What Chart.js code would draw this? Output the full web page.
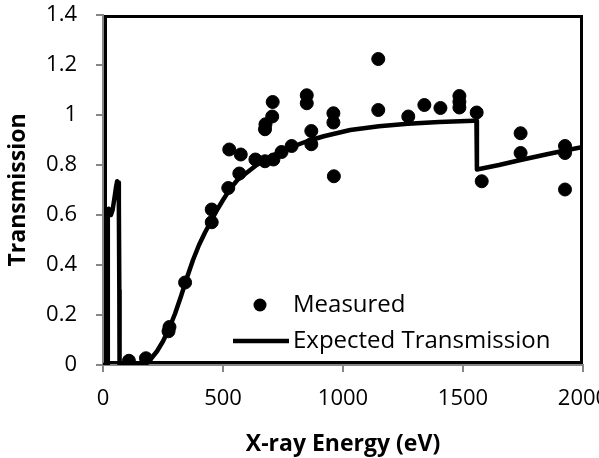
<!DOCTYPE html>
<html>
<head>
<meta charset="utf-8">
<script src="https://cdn.jsdelivr.net/npm/chart.js@4.4.1/dist/chart.umd.min.js"></script>
<style>
  html, body { margin: 0; padding: 0; background: #fff; }
  #wrap { width: 599px; height: 458px; }
</style>
</head>
<body>
<div id="wrap"><canvas id="xrayChart" width="599" height="458"></canvas></div>
<script>
// measured points (eV, transmission)
const measuredEnergy = [108, 179, 273, 277, 342, 453, 453, 522, 526, 568, 574, 635, 675, 675, 677, 705, 707, 710, 744, 786,
    849, 849, 868, 868, 960, 960, 962, 1147, 1147, 1272, 1339, 1406, 1485, 1485, 1485, 1557, 1578, 1740, 1740, 1925, 1925, 1925];
const measuredTrans = [0.017, 0.027, 0.135, 0.152, 0.33, 0.622, 0.571, 0.708, 0.862, 0.766, 0.842, 0.822, 0.815, 0.943, 0.963, 0.994, 1.052, 0.822, 0.852, 0.876,
    1.079, 1.047, 0.936, 0.883, 1.007, 0.97, 0.755, 1.224, 1.02, 0.994, 1.04, 1.028, 1.076, 1.053, 1.03, 1.01, 0.735, 0.927, 0.848, 0.876, 0.848, 0.702];

// expected transmission curve
const expectedEnergy = [0, 18, 20, 24, 28, 33, 40, 48, 54, 59, 63, 66, 68, 69, 150, 175, 200, 225, 250, 275, 300, 325, 350, 375,
    400, 425, 450, 475, 500, 530, 560, 600, 640, 700, 780, 850, 920, 1030, 1150, 1270, 1400, 1545, 1556, 1558, 1650, 1740, 1850, 1925, 2000];
const expectedTrans = [0, 0, 0.60, 0.625, 0.62, 0.60, 0.62, 0.67, 0.71, 0.735, 0.73, 0.65, 0.3, 0, 0, 0.005, 0.025, 0.055, 0.095, 0.145, 0.205, 0.275, 0.35, 0.42,
    0.48, 0.53, 0.575, 0.62, 0.66, 0.705, 0.74, 0.77, 0.80, 0.835, 0.87, 0.895, 0.915, 0.94, 0.955, 0.965, 0.972, 0.977, 0.977, 0.782, 0.80, 0.82, 0.843, 0.858, 0.872];

const xTickLabels = ['0', '500', '1000', '1500', '2000'];
const yTickLabels = ['0', '0.2', '0.4', '0.6', '0.8', '1', '1.2', '1.4'];

const measuredPts = measuredEnergy.map((e, i) => ({ x: e, y: measuredTrans[i] }));
const expectedPts = expectedEnergy.map((e, i) => ({ x: e, y: expectedTrans[i] }));

const FONT = '"Open Sans", "Noto Sans", sans-serif';

// black frame round the plot area
const framePlugin = {
    id: 'frame',
    beforeDatasetsDraw(chart) {
        const a = chart.chartArea;
        const ctx = chart.ctx;
        ctx.save();
        ctx.strokeStyle = '#000';
        ctx.lineWidth = 3;
        ctx.strokeRect(a.left + 2.5, a.top + 1.5, (a.right - 1.5) - (a.left + 2.5), (a.bottom - 2.5) - (a.top + 1.5));
        ctx.restore();
    }
};

// legend drawn inside the plot, bottom right
const legendPlugin = {
    id: 'insideLegend',
    afterDraw(chart) {
        const ctx = chart.ctx;
        ctx.save();
        ctx.fillStyle = '#000';
        ctx.strokeStyle = '#000';
        ctx.beginPath();
        ctx.arc(260, 305, 6.5, 0, Math.PI * 2);
        ctx.fill();
        ctx.lineWidth = 4.5;
        ctx.beginPath();
        ctx.moveTo(233, 341);
        ctx.lineTo(289, 341);
        ctx.stroke();
        ctx.font = '24px ' + FONT;
        ctx.textBaseline = 'middle';
        ctx.textAlign = 'left';
        ctx.fillText('Measured', 293, 305);
        ctx.fillText('Expected Transmission', 293, 341);
        ctx.restore();
    }
};

const ctx = document.getElementById('xrayChart').getContext('2d');
const xrayChart = new Chart(ctx, {
    type: 'scatter',
    data: {
        datasets: [{
            label: 'Measured',
            data: measuredPts,
            backgroundColor: '#000',
            borderColor: '#000',
            pointRadius: 6.5,
            pointHoverRadius: 6.5,
            showLine: false
        }, {
            label: 'Expected Transmission',
            data: expectedPts,
            borderColor: '#000',
            backgroundColor: '#000',
            borderWidth: 4.5,
            pointRadius: 0,
            showLine: true,
            tension: 0,
            borderJoinStyle: 'round'
        }]
    },
    options: {
        responsive: false,
        animation: false,
        layout: { padding: { left: 0, top: 15, right: 16, bottom: 0 } },
        plugins: {
            legend: { display: false },
            tooltip: { enabled: false }
        },
        scales: {
            x: {
                type: 'linear',
                min: 0,
                max: 2000,
                afterFit(scale) {
                    scale.height = 93;
                    scale.paddingLeft = 0;
                    scale.paddingRight = 0;
                },
                afterBuildTicks(scale) {
                    scale.ticks = xTickLabels.map(t => ({ value: Number(t) }));
                },
                ticks: {
                    color: '#000',
                    font: { family: FONT, size: 22 },
                    padding: 14,
                    maxRotation: 0,
                    callback: (v, i) => xTickLabels[i]
                },
                grid: { display: true, drawOnChartArea: false, drawTicks: true, tickLength: 7, color: '#868686', lineWidth: 2 },
                border: { display: true, color: '#868686', width: 2 },
                title: {
                    display: true,
                    text: 'X-ray Energy (eV)',
                    color: '#000',
                    font: { family: FONT, size: 23, weight: 'bold' },
                    padding: { top: 2, bottom: 0 }
                }
            },
            y: {
                type: 'linear',
                min: 0,
                max: 1.4,
                afterFit(scale) {
                    scale.width = 103;
                    scale.paddingTop = 0;
                    scale.paddingBottom = 0;
                },
                afterBuildTicks(scale) {
                    scale.ticks = yTickLabels.map(t => ({ value: Number(t) }));
                },
                ticks: {
                    color: '#000',
                    font: { family: FONT, size: 22 },
                    padding: 19,
                    callback: (v, i) => yTickLabels[i]
                },
                grid: { display: true, drawOnChartArea: false, drawTicks: true, tickLength: 7, color: '#868686', lineWidth: 2 },
                border: { display: true, color: '#868686', width: 2 },
                title: {
                    display: true,
                    text: 'Transmission',
                    color: '#000',
                    font: { family: FONT, size: 23, weight: 'bold' },
                    padding: { top: 5, bottom: 0 }
                }
            }
        }
    },
    plugins: [framePlugin, legendPlugin]
});
</script>
</body>
</html>
